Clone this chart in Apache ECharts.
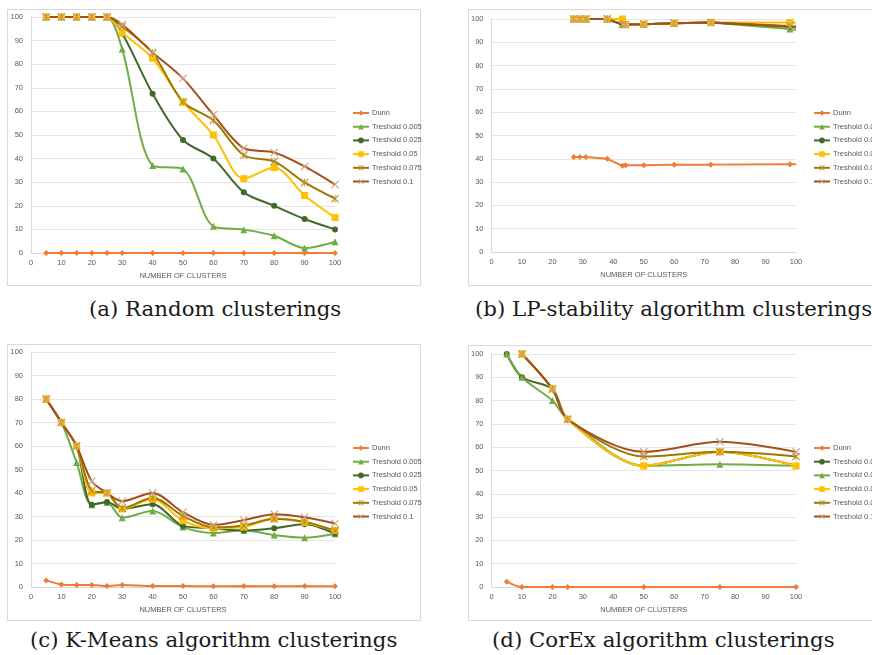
<!DOCTYPE html>
<html>
<head>
<meta charset="utf-8">
<script src="https://cdn.jsdelivr.net/npm/echarts@6/dist/echarts.min.js"></script>
<style>
  body { margin: 0; background: #fff; width: 872px; height: 655px; overflow: hidden; position: relative; }
  .box { position: absolute; border: 1px solid #D9D9D9; box-sizing: border-box; }
  .chart { position: absolute; width: 440px; }
  .cap { position: absolute; font-family: 'DejaVu Serif', serif; font-size: 21.3px; color: #1a1a1a; white-space: nowrap; }
</style>
</head>
<body>
<div class="box" style="left:7px;top:9px;width:414px;height:277px"></div>
<div class="box" style="left:468px;top:9px;width:420px;height:277px"></div>
<div class="box" style="left:7px;top:344px;width:414px;height:277px"></div>
<div class="box" style="left:468px;top:345px;width:420px;height:276px"></div>
<div class="chart" id="ca" style="left:7px;top:9px;height:277px"></div>
<div class="chart" id="cb" style="left:468px;top:9px;height:277px"></div>
<div class="chart" id="cc" style="left:7px;top:344px;height:277px"></div>
<div class="chart" id="cd" style="left:468px;top:345px;height:276px"></div>
<div class="cap" style="left:89px;top:296px">(a) Random clusterings</div>
<div class="cap" style="left:475px;top:296px">(b) LP-stability algorithm clusterings</div>
<div class="cap" style="left:30px;top:627px">(c) K-Means algorithm clusterings</div>
<div class="cap" style="left:492px;top:627px">(d) CorEx algorithm clusterings</div>
<script>
// (a) random
var xA = [5, 10, 15, 20, 25, 30, 40, 50, 60, 70, 80, 90, 100];
var aDunn = [0, 0, 0, 0, 0, 0, 0, 0, 0, 0, 0, 0, 0];
var aT005 = [100, 100, 100, 100, 100, 86.4, 37.1, 35.6, 11.3, 9.9, 7.3, 2.1, 4.8];
var aT025 = [100, 100, 100, 100, 100, 93, 67.5, 47.9, 40, 25.7, 20, 14.4, 10];
var aT05 = [100, 100, 100, 100, 100, 93.4, 82.5, 64, 50, 31.5, 36.2, 24.4, 15];
var aT075 = [100, 100, 100, 100, 100, 96, 84.7, 64, 56.2, 41.4, 38.8, 29.9, 23];
var aT1 = [100, 100, 100, 100, 100, 96.8, 85, 74, 58.5, 44.4, 42.6, 36.7, 29];

// (b) LP-stability
var xB = [27, 29, 31, 38, 43, 44, 50, 60, 72, 98, 100];
var bDunn = [40.8, 40.8, 40.8, 40, 37, 37.2, 37.2, 37.5, 37.5, 37.7, 37.7];
var bT005 = [100, 100, 100, 100, 97.6, 97.6, 97.8, 98.2, 98.5, 95.7, 95.3];
var bT025 = [100, 100, 100, 100, 97.6, 97.6, 97.8, 98.2, 98.5, 96.7, 96.5];
var bT05 = [100, 100, 100, 100, 100, 97.6, 97.8, 98.2, 98.5, 98.5, 98.5];
var bT075 = [100, 100, 100, 100, 97.6, 97.6, 97.8, 98.2, 98.5, 97, 96.8];
var bT1 = [100, 100, 100, 100, 97.6, 97.6, 97.8, 98.2, 98.5, 96.8, 96.5];

// (c) K-Means
var xC = [5, 10, 15, 20, 25, 30, 40, 50, 60, 70, 80, 90, 100];
var cDunn = [2.8, 1.1, 0.85, 0.85, 0.4, 0.85, 0.4, 0.4, 0.3, 0.4, 0.3, 0.4, 0.3];
var cT005 = [80, 70, 53, 35, 36, 29.5, 32.3, 25.5, 23, 24.1, 22.1, 21, 22.7];
var cT025 = [80, 70, 60, 35, 36.2, 33.2, 35.2, 26, 25, 24, 25, 26.7, 22.7];
var cT05 = [80, 70, 60, 40, 40, 33.2, 37.4, 28.2, 25, 25.5, 29, 27.4, 24];
var cT075 = [80, 70, 60, 41, 40, 33.5, 38, 30.2, 25.4, 26.2, 29, 27.8, 24];
var cT1 = [80, 70, 60, 45, 40, 36.5, 40, 31.8, 26.4, 28.5, 31, 29.7, 27];

// (d) CorEx
var xD = [5, 10, 20, 25, 50, 75, 100];
var xD2 = [10, 20, 25, 50, 75, 100];
var dDunn = [2.3, 0, 0, 0, 0, 0, 0];
var dT025 = [100, 90, 85, 72, 52, 58, 52];
var dT005 = [100, 90, 80, 72, 52, 52.7, 52];
var dT05 = [100, 85, 72, 52, 58, 52];
var dT075 = [100, 85, 72, 56, 58, 56];
var dT1 = [100, 85, 72, 58, 62.3, 58];

var xTicks = [0, 10, 20, 30, 40, 50, 60, 70, 80, 90, 100];
var yTicks = [0, 10, 20, 30, 40, 50, 60, 70, 80, 90, 100];

var FONT = "'Liberation Sans', sans-serif";
var crossPath = 'path://M0,1 L1,0 L5,4 L9,0 L10,1 L6,5 L10,9 L9,10 L5,6 L1,10 L0,9 L4,5 Z';
var starPath = 'path://M0,1 L1,0 L4.5,3.5 L4.5,0 L5.5,0 L5.5,3.5 L9,0 L10,1 L6,5 L10,9 L9,10 L5.5,6.5 L5.5,10 L4.5,10 L4.5,6.5 L1,10 L0,9 L4,5 Z';

// style per series name
var styles = {
    'Dunn': { color: '#ED7D31', mark: '#ED7D31', symbol: 'diamond', size: 6 },
    'Treshold 0.005': { color: '#70AD47', mark: '#70AD47', symbol: 'triangle', size: 7 },
    'Treshold 0.025': { color: '#43682B', mark: '#43682B', symbol: 'circle', size: 6 },
    'Treshold 0.05': { color: '#FFC000', mark: '#FFC000', symbol: 'rect', size: 7 },
    'Treshold 0.075': { color: '#9E7700', mark: '#B8902A', symbol: starPath, size: 8 },
    'Treshold 0.1': { color: '#A34F1C', mark: '#D0A080', symbol: crossPath, size: 8 }
};

function pairs(xs, ys, lastHidden) {
    return ys.map(function (y, i) {
        var item = { value: [xs[i], y] };
        if (lastHidden && i === ys.length - 1) item.symbol = 'none';
        return item;
    });
}

function makeSeries(name, xs, ys, smooth, lastHidden) {
    var s = styles[name];
    return {
        name: name,
        type: 'line',
        smooth: smooth,
        symbol: s.symbol,
        symbolSize: s.size,
        lineStyle: { width: 2, color: s.color },
        itemStyle: { color: s.mark, borderWidth: 0 },
        data: pairs(xs, ys, lastHidden)
    };
}

function initPanel(id, grid, legendTop, series) {
    var chart = echarts.init(document.getElementById(id));
    var option = {
        animation: false,
        textStyle: { fontFamily: FONT },
        grid: grid,
        legend: {
            orient: 'vertical',
            left: 345,
            top: legendTop,
            padding: 0,
            itemWidth: 16,
            itemHeight: 7,
            itemGap: 5.7,
            textStyle: { fontSize: 7.5, color: '#595959', fontFamily: FONT, padding: [0, 0, 0, -2] },
            data: series.map(function (s) { return s.name; })
        },
        xAxis: {
            type: 'value',
            min: xTicks[0],
            max: xTicks[xTicks.length - 1],
            interval: 10,
            name: 'NUMBER OF CLUSTERS',
            nameLocation: 'middle',
            nameGap: 19,
            nameTextStyle: { fontSize: 7.5, color: '#595959' },
            axisLine: { lineStyle: { color: '#D9D9D9' } },
            axisTick: { show: false },
            splitLine: { show: false },
            axisLabel: { fontSize: 7.5, color: '#595959', margin: 6 }
        },
        yAxis: {
            type: 'value',
            min: yTicks[0],
            max: yTicks[yTicks.length - 1],
            interval: 10,
            axisLine: { show: true, lineStyle: { color: '#D9D9D9' } },
            axisTick: { show: false },
            splitLine: { lineStyle: { color: '#E6E6E6' } },
            axisLabel: { fontSize: 7.5, color: '#595959', margin: 8 }
        },
        series: series
    };
    chart.setOption(option);
    return chart;
}

initPanel('ca', { left: 24, top: 8, width: 304, height: 236 }, 100, [
    makeSeries('Dunn', xA, aDunn, 0.3),
    makeSeries('Treshold 0.005', xA, aT005, 0.3),
    makeSeries('Treshold 0.025', xA, aT025, 0.3),
    makeSeries('Treshold 0.05', xA, aT05, 0.3),
    makeSeries('Treshold 0.075', xA, aT075, 0.3),
    makeSeries('Treshold 0.1', xA, aT1, 0.3)
]);

initPanel('cb', { left: 23, top: 10, width: 305, height: 233 }, 100, [
    makeSeries('Dunn', xB, bDunn, false, true),
    makeSeries('Treshold 0.005', xB, bT005, false, true),
    makeSeries('Treshold 0.025', xB, bT025, false, true),
    makeSeries('Treshold 0.05', xB, bT05, false, true),
    makeSeries('Treshold 0.075', xB, bT075, false, true),
    makeSeries('Treshold 0.1', xB, bT1, false, true)
]);

initPanel('cc', { left: 24, top: 8, width: 304, height: 235 }, 100, [
    makeSeries('Dunn', xC, cDunn, 0.3),
    makeSeries('Treshold 0.005', xC, cT005, 0.3),
    makeSeries('Treshold 0.025', xC, cT025, 0.3),
    makeSeries('Treshold 0.05', xC, cT05, 0.3),
    makeSeries('Treshold 0.075', xC, cT075, 0.3),
    makeSeries('Treshold 0.1', xC, cT1, 0.3)
]);

initPanel('cd', { left: 23, top: 9, width: 305, height: 233 }, 99, [
    makeSeries('Dunn', xD, dDunn, 0.3),
    makeSeries('Treshold 0.025', xD, dT025, 0.3),
    makeSeries('Treshold 0.005', xD, dT005, 0.3),
    makeSeries('Treshold 0.05', xD2, dT05, 0.3),
    makeSeries('Treshold 0.075', xD2, dT075, 0.3),
    makeSeries('Treshold 0.1', xD2, dT1, 0.3)
]);
</script>
</body>
</html>
